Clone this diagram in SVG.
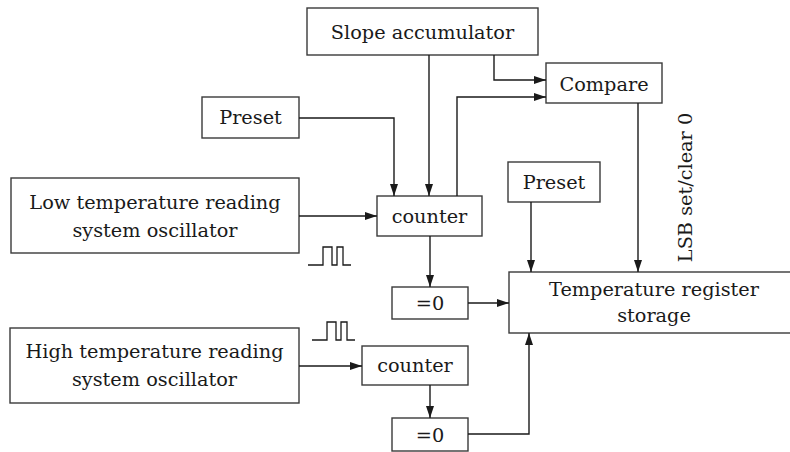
<svg xmlns="http://www.w3.org/2000/svg" width="790" height="452" viewBox="0 0 790 452">
<style>
.box{fill:#fff;stroke:#3a3a3a;stroke-width:1.4}
.t{font-family:"DejaVu Serif","Liberation Serif",serif;font-size:19.3px;fill:#1a1a1a;text-anchor:middle}
.c{fill:none;stroke:#1a1a1a;stroke-width:1.4}
.p{fill:none;stroke:#1a1a1a;stroke-width:1.3}
</style>
<defs>
<marker id="a" viewBox="0 0 12 8" refX="12" refY="4" markerWidth="12" markerHeight="8" markerUnits="userSpaceOnUse" orient="auto">
<path d="M0,0L12,4L0,8z" fill="#1a1a1a"/>
</marker>
</defs>
<rect width="790" height="452" fill="#fff"/>
<g id="slope"><rect class="box" x="307" y="8" width="231" height="47"/><text class="t" x="422.5" y="39">Slope accumulator</text></g>
<g id="compare"><rect class="box" x="546" y="63" width="116" height="40"/><text class="t" x="604" y="91">Compare</text></g>
<g id="preset1"><rect class="box" x="202" y="97" width="97" height="41"/><text class="t" x="250.5" y="124">Preset</text></g>
<g id="lowosc"><rect class="box" x="11" y="178" width="288" height="75"/><text class="t" x="155" y="209">Low temperature reading</text><text class="t" x="155" y="237">system oscillator</text></g>
<g id="counter1"><rect class="box" x="377" y="196" width="105" height="40"/><text class="t" x="429.5" y="223">counter</text></g>
<g id="zero1"><rect class="box" x="392" y="287" width="76" height="32"/><text class="t" x="430" y="310">=0</text></g>
<g id="preset2"><rect class="box" x="508" y="162" width="92" height="40"/><text class="t" x="554" y="189">Preset</text></g>
<g id="tempreg"><rect class="box" x="509" y="272" width="290" height="61"/><text class="t" x="654" y="296">Temperature register</text><text class="t" x="654" y="322">storage</text></g>
<g id="highosc"><rect class="box" x="10" y="328" width="289" height="75"/><text class="t" x="154.5" y="358">High temperature reading</text><text class="t" x="154.5" y="386">system oscillator</text></g>
<g id="counter2"><rect class="box" x="362" y="346" width="106" height="39"/><text class="t" x="415" y="372">counter</text></g>
<g id="zero2"><rect class="box" x="392" y="418" width="76" height="33"/><text class="t" x="430" y="442">=0</text></g>
<g id="lsb"><text class="t" transform="translate(692,187.5) rotate(-90)">LSB set/clear 0</text></g>
<g id="pulses">
<path class="p" d="M308,265H323V247H332V265H337V247H343V265H351"/>
<path class="p" d="M312,340H327V322H336V340H341V322H347V340H355"/>
</g>
<g id="connectors">
<path class="c" d="M429,55V196" marker-end="url(#a)"/>
<path class="c" d="M494,55V80H546" marker-end="url(#a)"/>
<path class="c" d="M457,196V97H546" marker-end="url(#a)"/>
<path class="c" d="M299,118H394V196" marker-end="url(#a)"/>
<path class="c" d="M299,216H377" marker-end="url(#a)"/>
<path class="c" d="M430,236V287" marker-end="url(#a)"/>
<path class="c" d="M468,303H509" marker-end="url(#a)"/>
<path class="c" d="M531,202V272" marker-end="url(#a)"/>
<path class="c" d="M638,103V272" marker-end="url(#a)"/>
<path class="c" d="M299,366H362" marker-end="url(#a)"/>
<path class="c" d="M430,385V418" marker-end="url(#a)"/>
<path class="c" d="M468,434H529V333" marker-end="url(#a)"/>
</g>
</svg>
